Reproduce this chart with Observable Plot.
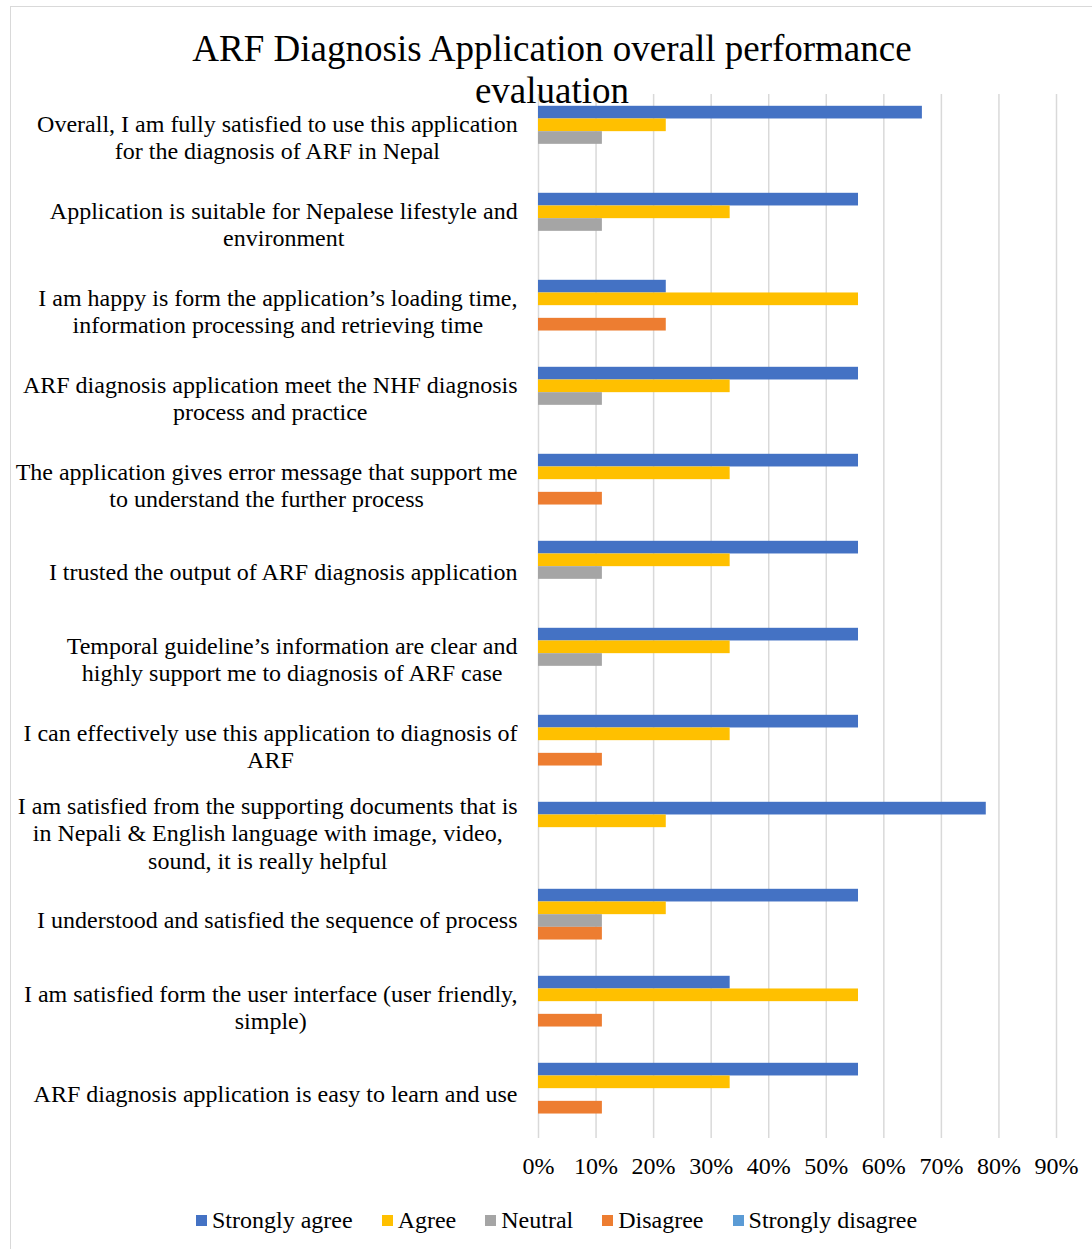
<!DOCTYPE html>
<html>
<head>
<meta charset="utf-8">
<script src="https://cdn.jsdelivr.net/npm/d3@7"></script>
<script src="https://cdn.jsdelivr.net/npm/@observablehq/plot@0.6"></script>
<style>
  body { margin: 0; background: #fff; }
  #wrap { position: relative; width: 1092px; height: 1249px; overflow: hidden; background: #fff;
          font-family: "Liberation Serif", "Times New Roman", serif; color: #000; }
  #frame { position: absolute; left: 10px; top: 6px; width: 1100px; height: 1260px;
           border: 1.5px solid #d9d9d9; box-sizing: border-box; z-index: 3; pointer-events: none; }
  #title { position: absolute; left: 0; width: 1104px; top: 28px; text-align: center;
           font-size: 37px; line-height: 42px; z-index: 2; }
  #chart { position: absolute; left: 0; top: 0; }
  #legend { position: absolute; left: 196px; top: 1206px; display: flex; font-size: 24px;
            line-height: 28px; white-space: nowrap; }
  .item { display: flex; align-items: center; margin-right: 29px; }
  .sw { width: 11px; height: 11px; margin-right: 5px; }
</style>
</head>
<body>
<div id="wrap">
  <div id="frame"></div>
  <div id="chart"></div>
  <div id="title"></div>
  <div id="legend"></div>
</div>
<script>
const titleLines = ["ARF Diagnosis Application overall performance", "evaluation"];

const categories = [
  "Overall, I am fully satisfied to use this application for the diagnosis of ARF in Nepal",
  "Application is suitable for Nepalese lifestyle and environment",
  "I am happy is form the application’s loading time, information processing and retrieving time",
  "ARF diagnosis application meet the NHF diagnosis process and practice",
  "The application gives error message that support me to understand the further process",
  "I trusted the output of ARF diagnosis application",
  "Temporal guideline’s information are clear and highly support me to diagnosis of ARF case",
  "I can effectively use this application to diagnosis of ARF",
  "I am satisfied from the supporting documents that is in Nepali & English language with image, video, sound, it is really helpful",
  "I understood and satisfied the sequence of process",
  "I am satisfied form the user interface (user friendly, simple)",
  "ARF diagnosis application is easy to learn and use"
];

const categoryLabels = [
  "Overall, I am fully satisfied to use this application\nfor the diagnosis of ARF in Nepal",
  "Application is suitable for Nepalese lifestyle and\nenvironment",
  "I am happy is form the application’s loading time,\ninformation processing and retrieving time",
  "ARF diagnosis application meet the NHF diagnosis\nprocess and practice",
  "The application gives error message that support me\nto understand the further process",
  "I trusted the output of ARF diagnosis application",
  "Temporal guideline’s information are clear and\nhighly support me to diagnosis of ARF case",
  "I can effectively use this application to diagnosis of\nARF",
  "I am satisfied from the supporting documents that is\nin Nepali & English language with image, video,\nsound, it is really helpful",
  "I understood and satisfied the sequence of process",
  "I am satisfied form the user interface (user friendly,\nsimple)",
  "ARF diagnosis application is easy to learn and use"
];

const series = ["Strongly agree", "Agree", "Neutral", "Disagree", "Strongly disagree"];
const colors = ["#4472C4", "#FFC000", "#A5A5A5", "#ED7D31", "#5B9BD5"];

const stronglyAgree    = [66.7, 55.6, 22.2, 55.6, 55.6, 55.6, 55.6, 55.6, 77.8, 55.6, 33.3, 55.6];
const agree            = [22.2, 33.3, 55.6, 33.3, 33.3, 33.3, 33.3, 33.3, 22.2, 22.2, 55.6, 33.3];
const neutral          = [11.1, 11.1, 0,    11.1, 0,    11.1, 11.1, 0,    0,    11.1, 0,    0];
const disagree         = [0,    0,    22.2, 0,    11.1, 0,    0,    11.1, 0,    11.1, 11.1, 11.1];
const stronglyDisagree = [0,    0,    0,    0,    0,    0,    0,    0,    0,    0,    0,    0];

const xTicks = [0, 10, 20, 30, 40, 50, 60, 70, 80, 90];

const seriesValues = [stronglyAgree, agree, neutral, disagree, stronglyDisagree];
const rows = [];
categories.forEach((c, i) => {
  series.forEach((s, j) => {
    rows.push({category: c, series: s, value: seriesValues[j][i]});
  });
});
const labelMap = new Map(categories.map((c, i) => [c, categoryLabels[i]]));

// Title
document.getElementById("title").innerHTML = titleLines.join("<br>");

const chart = Plot.plot({
  width: 1092,
  height: 1190,
  marginTop: 93,
  marginBottom: 52,
  marginLeft: 538,
  marginRight: 36,
  style: {fontFamily: "'Liberation Serif', 'Times New Roman', serif", fontSize: "24px", background: "transparent", color: "#000"},
  x: {domain: [0, 90], label: null},
  y: {domain: series, paddingInner: 0, paddingOuter: 0.93, round: false, axis: null},
  fy: {domain: categories, paddingInner: 0, paddingOuter: 0, label: null},
  color: {domain: series, range: colors},
  marks: [
    Plot.gridX(xTicks, {stroke: "#d9d9d9", strokeOpacity: 1, strokeWidth: 1.5}),
    Plot.barX(rows.filter(d => d.value > 0), {x: "value", y: "series", fy: "category", fill: "series"}),
    Plot.axisX({ticks: xTicks, tickSize: 0, tickPadding: 18, tickFormat: d => d + "%", fontSize: 24, label: null}),
    Plot.axisFy({anchor: "left", tickSize: 0, tickPadding: 21, dy: -1.5, tickFormat: d => labelMap.get(d), lineHeight: 1.14, fontSize: 24, label: null})
  ]
});
document.getElementById("chart").appendChild(chart);

// Center each multi-line label block while keeping its right edge aligned
chart.querySelectorAll('g[aria-label="fy-axis tick label"] text').forEach(t => {
  const b0 = t.getBBox();
  const right = b0.x + b0.width;
  t.setAttribute("text-anchor", "middle");
  const b1 = t.getBBox();
  const desiredCenter = right - b0.width / 2;
  const delta = desiredCenter - (b1.x + b1.width / 2);
  const tr = t.getAttribute("transform") || "";
  t.setAttribute("transform", tr + ` translate(${delta},0)`);
});

// Legend
const legend = document.getElementById("legend");
series.forEach((s, i) => {
  const item = document.createElement("div");
  item.className = "item";
  const sw = document.createElement("span");
  sw.className = "sw";
  sw.style.background = colors[i];
  const lab = document.createElement("span");
  lab.textContent = s;
  item.appendChild(sw);
  item.appendChild(lab);
  legend.appendChild(item);
});
</script>
</body>
</html>
